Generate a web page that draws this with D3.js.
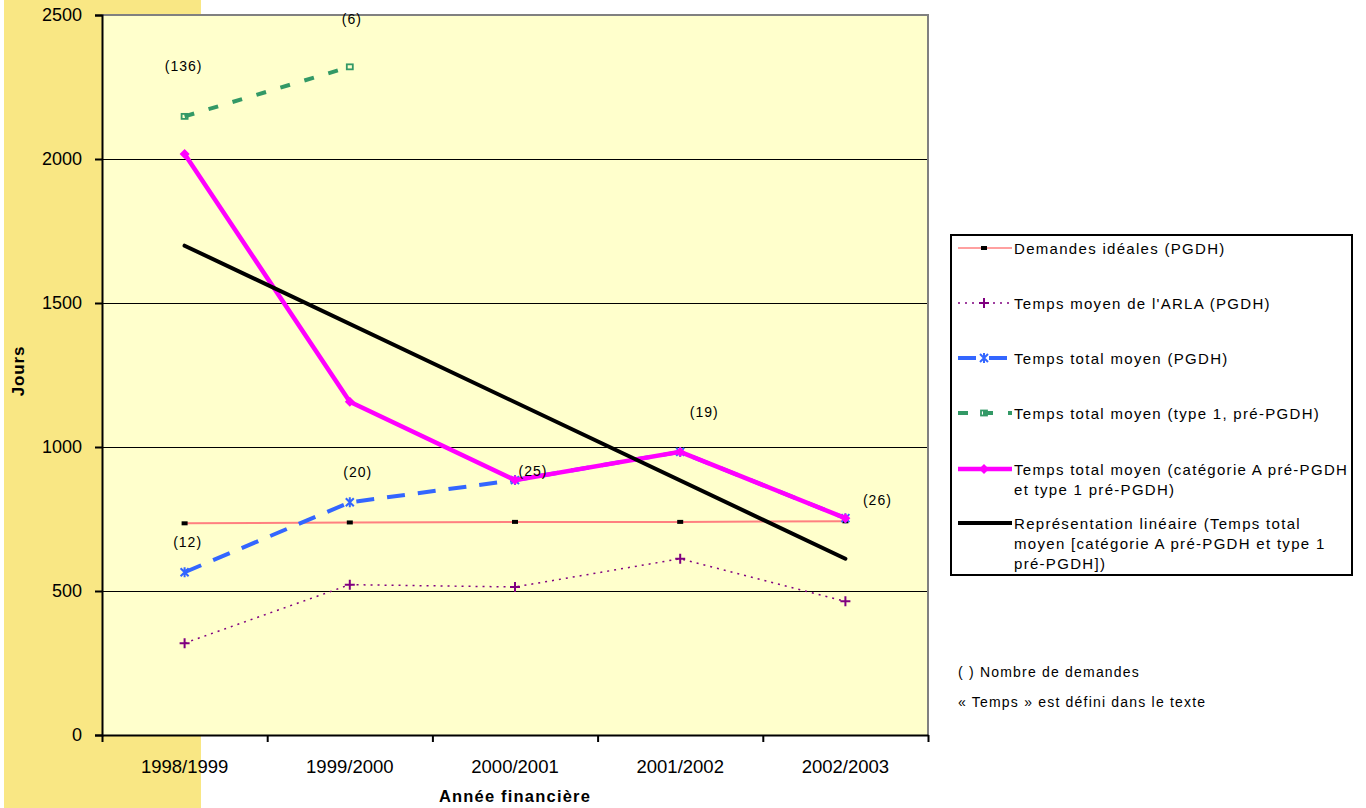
<!DOCTYPE html>
<html>
<head>
<meta charset="utf-8">
<script src="https://cdn.jsdelivr.net/npm/d3@7"></script>
<style>
  body { margin: 0; background: #fff; }
  text { font-family: "Liberation Sans", Arial, sans-serif; fill: #000; }
</style>
</head>
<body>
<div id="svg"></div>
<script>
let w = 1366;
let h = 808;
let pLeft = 102, pRight = 928, pTop = 15, pBottom = 735;

// data
let years = ['1998/1999', '1999/2000', '2000/2001', '2001/2002', '2002/2003'];
let yTicks = [0, 500, 1000, 1500, 2000, 2500];
let demandes = [735, 738, 740, 740, 742];
let arla = [319, 522, 514, 612, 464];
let pgdh = [565, 808, 885, 983, 753];
let type1 = [2148, 2320, null, null, null];
let catA = [2017, 1157, 885, 983, 753];
let trend = [1699, null, null, null, 612];
let countText = ['(136)', '(6)', '(12)', '(20)', '(25)', '(19)', '(26)'];
let countYear = [0, 1, 0, 1, 2, 3, 4];
let countSeries = ['type1', 'type1', 'pgdh', 'pgdh', 'pgdh', 'pgdh', 'pgdh'];
let legendNames = [
  ['Demandes idéales (PGDH)'],
  ["Temps moyen de l'ARLA (PGDH)"],
  ['Temps total moyen (PGDH)'],
  ['Temps total moyen (type 1, pré-PGDH)'],
  ['Temps total moyen (catégorie A pré-PGDH', 'et type 1 pré-PGDH)'],
  ['Représentation linéaire (Temps total', 'moyen [catégorie A pré-PGDH et type 1', 'pré-PGDH])']
];
let notes = ['( ) Nombre de demandes', '« Temps » est défini dans le texte'];

let svg = d3.select('#svg')
  .append('svg')
  .attr('width', w)
  .attr('height', h);

// yellow strip behind the left side
svg.append('rect')
  .attr('x', 4).attr('y', 0)
  .attr('width', 197).attr('height', h)
  .style('fill', '#F9E784');

let xScale = d3.scaleBand().domain(years).range([pLeft, pRight]);
let xEdge = d3.scaleLinear().domain([0, years.length]).range([pLeft, pRight]);
let yScale = d3.scaleLinear().domain([0, 2500]).range([pBottom, pTop]);
let xc = (i) => xScale(years[i]) + xScale.bandwidth() / 2;

svg.append('rect')
  .attr('x', pLeft).attr('y', pTop)
  .attr('width', pRight - pLeft).attr('height', pBottom - pTop)
  .style('fill', '#FFFFCC');

// gridlines
svg.append('g')
  .selectAll('line')
  .data(yTicks.filter(d => d > 0 && d < 2500))
  .enter()
  .append('line')
  .attr('x1', pLeft).attr('x2', pRight)
  .attr('y1', d => yScale(d) + 0.5).attr('y2', d => yScale(d) + 0.5)
  .attr('shape-rendering', 'crispEdges')
  .style('stroke', '#000').style('stroke-width', 1);

// top + right border
svg.append('path')
  .attr('d', 'M' + pLeft + ',' + pTop + 'H' + pRight + 'V' + pBottom)
  .style('fill', 'none').style('stroke', '#808080').style('stroke-width', 2);

// axes
let yAxis = d3.axisLeft(yScale).tickValues(yTicks).tickSize(7).tickPadding(13).tickFormat(d3.format('d'));
let gy = svg.append('g')
  .attr('transform', 'translate(' + pLeft + ',0)')
  .call(yAxis);
gy.selectAll('text').style('font-size', '18px').attr('fill', '#000');
gy.selectAll('line, path').style('stroke', '#000').style('stroke-width', 2);

let gx = svg.append('g')
  .attr('transform', 'translate(0,' + pBottom + ')')
  .call(d3.axisBottom(xScale).tickSize(0).tickPadding(25));
gx.selectAll('text').style('font-size', '18.5px').attr('fill', '#000');
gx.select('.domain').style('stroke', '#000').style('stroke-width', 2);

let gx2 = svg.append('g')
  .attr('transform', 'translate(0,' + pBottom + ')')
  .call(d3.axisBottom(xEdge).tickValues(d3.range(years.length + 1)).tickSize(7).tickFormat(''));
gx2.select('.domain').remove();
gx2.selectAll('line').style('stroke', '#000').style('stroke-width', 2);

// axis titles
svg.append('text')
  .text('Jours')
  .attr('transform', 'translate(24,371) rotate(-90)')
  .attr('text-anchor', 'middle')
  .style('font-size', '17px').style('font-weight', 'bold').style('letter-spacing', '0.8px');

svg.append('text')
  .text('Année financière')
  .attr('x', (pLeft + pRight) / 2).attr('y', 802)
  .attr('text-anchor', 'middle')
  .style('font-size', '16.5px').style('font-weight', 'bold').style('letter-spacing', '1.2px');

// markers
function marker(g, type, x, y, color) {
  if (type === 'rect') {
    g.append('rect').attr('x', x - 3).attr('y', y - 2).attr('width', 6).attr('height', 4).style('fill', '#000');
  } else if (type === 'plus') {
    g.append('path').attr('d', 'M' + (x - 5) + ',' + y + 'H' + (x + 5) + 'M' + x + ',' + (y - 5) + 'V' + (y + 5))
      .style('stroke', color).style('stroke-width', 2);
  } else if (type === 'star') {
    g.append('path').attr('d', 'M' + (x - 4) + ',' + (y - 4) + 'L' + (x + 4) + ',' + (y + 4) + 'M' + (x - 4) + ',' + (y + 4) + 'L' + (x + 4) + ',' + (y - 4) + 'M' + x + ',' + (y - 5) + 'V' + (y + 5))
      .style('stroke', color).style('stroke-width', 2);
  } else if (type === 'square') {
    g.append('rect').attr('x', x - 3).attr('y', y - 2.5).attr('width', 6).attr('height', 5)
      .style('fill', 'none').style('stroke', color).style('stroke-width', 1.8);
  } else if (type === 'diamond') {
    g.append('path').attr('d', 'M' + x + ',' + (y - 5) + 'L' + (x + 5) + ',' + y + 'L' + x + ',' + (y + 5) + 'L' + (x - 5) + ',' + y + 'Z')
      .style('fill', color);
  }
}

let series = [
  {key: 'demandes', values: demandes, color: '#FF8080', width: 2, dash: null, mark: 'rect'},
  {key: 'arla', values: arla, color: '#800080', width: 1.5, dash: '2,5', mark: 'plus'},
  {key: 'pgdh', values: pgdh, color: '#3366FF', width: 4, dash: '18,13', mark: 'star'},
  {key: 'type1', values: type1, color: '#339966', width: 4, dash: '10,15', mark: 'square'},
  {key: 'catA', values: catA, color: '#FF00FF', width: 4.5, dash: null, mark: 'diamond'},
  {key: 'trend', values: trend, color: '#000000', width: 4, dash: null, mark: null}
];

let line = d3.line()
  .defined(d => d.v !== null)
  .x(d => xc(d.i))
  .y(d => yScale(d.v));

series.forEach(s => {
  let pts = s.values.map((v, i) => ({v: v, i: i})).filter(d => d.v !== null);
  let g = svg.append('g');
  g.append('path')
    .datum(pts)
    .attr('d', line)
    .style('fill', 'none')
    .style('stroke', s.color)
    .style('stroke-width', s.width)
    .style('stroke-linecap', s.key === 'trend' ? 'round' : 'butt')
    .style('stroke-dasharray', s.dash);
  if (s.mark) pts.forEach(d => marker(g, s.mark, xc(d.i), yScale(d.v), s.color));
});

// counts
let byKey = {type1: type1, pgdh: pgdh};
let countOffset = [[-1, -50], [2, -48], [3, -30], [8, -30], [18, -9], [24, -40], [32, -18]];
svg.append('g')
  .selectAll('text')
  .data(countText)
  .enter()
  .append('text')
  .text(d => d)
  .attr('x', (d, i) => xc(countYear[i]) + countOffset[i][0])
  .attr('y', (d, i) => yScale(byKey[countSeries[i]][countYear[i]]) + countOffset[i][1])
  .attr('text-anchor', 'middle')
  .attr('dominant-baseline', 'central')
  .style('font-size', '14px').style('letter-spacing', '1px');

// legend
let lg = svg.append('g');
lg.append('rect')
  .attr('x', 951).attr('y', 235).attr('width', 401).attr('height', 340)
  .style('fill', '#fff').style('stroke', '#000').style('stroke-width', 2);
let legendY = [248, 303, 358, 413, 469, 523];
series.forEach((s, k) => {
  let y = legendY[k];
  lg.append('line')
    .attr('x1', 958).attr('x2', 1012).attr('y1', y).attr('y2', y)
    .style('stroke', s.color)
    .style('stroke-width', s.key === 'demandes' ? 1.5 : s.width)
    .style('stroke-dasharray', s.dash);
  if (s.mark) marker(lg, s.mark, 984, y, s.color);
  legendNames[k].forEach((t, j) => {
    lg.append('text')
      .text(t)
      .attr('x', 1014).attr('y', y + j * 20)
      .attr('dominant-baseline', 'central')
      .style('font-size', '15px').style('letter-spacing', '1.3px');
  });
});

// notes
svg.append('g')
  .selectAll('text')
  .data(notes)
  .enter()
  .append('text')
  .text(d => d)
  .attr('x', 958)
  .attr('y', (d, i) => 672 + i * 30)
  .attr('dominant-baseline', 'central')
  .style('font-size', '14px').style('letter-spacing', '1.2px');
</script>
</body>
</html>
